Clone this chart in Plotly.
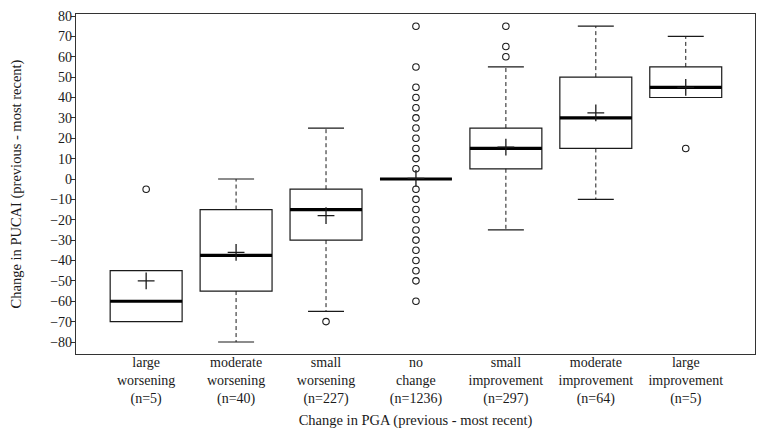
import plotly.graph_objects as go

# ---- data ----
categories = ["large<br>worsening", "moderate<br>worsening", "small<br>worsening",
              "no<br>change", "small<br>improvement", "moderate<br>improvement",
              "large<br>improvement"]
n_counts = [5, 40, 227, 1236, 297, 64, 5]
q1 = [-70, -55, -30, 0, 5, 15, 40]
median = [-60, -37.5, -15, 0, 15, 30, 45]
q3 = [-45, -15, -5, 0, 25, 50, 55]
lower_whisker = [-70, -80, -65, 0, -25, -10, 40]
upper_whisker = [-45, 0, 25, 0, 55, 75, 70]
means = [-50, -36, -18, 0.3, 15.6, 32.5, 45]
outliers = [
    [-5],
    [],
    [-70],
    [75, 55, 45, 40, 35, 30, 25, 20, 15, 10, 5, -5, -10, -15, -20, -25, -30,
     -35, -40, -45, -50, -60],
    [75, 65, 60],
    [],
    [15],
]
y_ticks = list(range(-80, 81, 10))

# ---- styling ----
FONT = "Liberation Serif"
INK = "#1a1a1a"
BOX_W = 0.8
CAP_W = 0.4

xs = list(range(len(categories)))
ticktext = [f"{c}<br>(n={n})" for c, n in zip(categories, n_counts)]

fig = go.Figure()

# boxes (body only)
fig.add_trace(go.Box(
    x=xs, q1=q1, median=median, q3=q3,
    lowerfence=q1, upperfence=q3,
    width=BOX_W, whiskerwidth=0,
    fillcolor="white", line=dict(color=INK, width=1.2),
    boxpoints=False, showlegend=False, hoverinfo="skip",
))

# dashed whiskers
wx, wy = [], []
for i in xs:
    if upper_whisker[i] > q3[i]:
        wx += [i, i, None]
        wy += [q3[i], upper_whisker[i], None]
    if lower_whisker[i] < q1[i]:
        wx += [i, i, None]
        wy += [q1[i], lower_whisker[i], None]
fig.add_trace(go.Scatter(x=wx, y=wy, mode="lines",
                         line=dict(color=INK, width=1, dash="4px,3px"),
                         showlegend=False, hoverinfo="skip"))

# whisker caps
cx, cy = [], []
for i in xs:
    if upper_whisker[i] > q3[i]:
        cx += [i - CAP_W / 2, i + CAP_W / 2, None]
        cy += [upper_whisker[i], upper_whisker[i], None]
    if lower_whisker[i] < q1[i]:
        cx += [i - CAP_W / 2, i + CAP_W / 2, None]
        cy += [lower_whisker[i], lower_whisker[i], None]
fig.add_trace(go.Scatter(x=cx, y=cy, mode="lines",
                         line=dict(color=INK, width=1.2),
                         showlegend=False, hoverinfo="skip"))

# thick medians
mx, my = [], []
for i in xs:
    mx += [i - BOX_W / 2, i + BOX_W / 2, None]
    my += [median[i], median[i], None]
fig.add_trace(go.Scatter(x=mx, y=my, mode="lines",
                         line=dict(color="black", width=3.2),
                         showlegend=False, hoverinfo="skip"))

# outliers
ox, oy = [], []
for i in xs:
    for v in outliers[i]:
        ox.append(i)
        oy.append(v)
fig.add_trace(go.Scatter(x=ox, y=oy, mode="markers",
                         marker=dict(symbol="circle-open", size=6.5,
                                     color=INK, line=dict(width=1.1, color=INK)),
                         showlegend=False, hoverinfo="skip"))

# means
fig.add_trace(go.Scatter(x=xs, y=means, mode="markers",
                         marker=dict(symbol="cross-thin", size=12,
                                     line=dict(width=1.3, color=INK)),
                         showlegend=False, hoverinfo="skip"))

# page body has an 8px default margin, so the figure is 8px smaller
fig.update_layout(
    width=756, height=428,
    margin=dict(l=68, r=9, t=6, b=82),
    paper_bgcolor="white", plot_bgcolor="white",
    font=dict(family=FONT, size=14, color=INK),
    showlegend=False,
)
fig.update_xaxes(
    range=[-0.78, 6.77], tickmode="array", tickvals=xs, ticktext=ticktext,
    ticks="", showgrid=False, zeroline=False,
    showline=True, mirror=True, linecolor="#333", linewidth=1.2,
    tickfont=dict(family=FONT, size=14, color=INK),
    ticklabelstandoff=-5,
    title=dict(text="Change in PGA (previous - most recent)",
               font=dict(family=FONT, size=14.5, color=INK), standoff=8),
    automargin=False,
)
fig.update_yaxes(
    range=[-85.89, 80.98], tickmode="array", tickvals=y_ticks,
    ticks="outside", ticklen=4, tickcolor="#333",
    showgrid=False, zeroline=False,
    showline=True, mirror=True, linecolor="#333", linewidth=1.2,
    tickfont=dict(family=FONT, size=14, color=INK),
    ticklabeloverflow="allow",
    ticklabelstandoff=-4,
    title=dict(text="Change in PUCAI (previous - most recent)",
               font=dict(family=FONT, size=14.5, color=INK), standoff=33),
    automargin=False,
)

fig.write_html("out.html")
